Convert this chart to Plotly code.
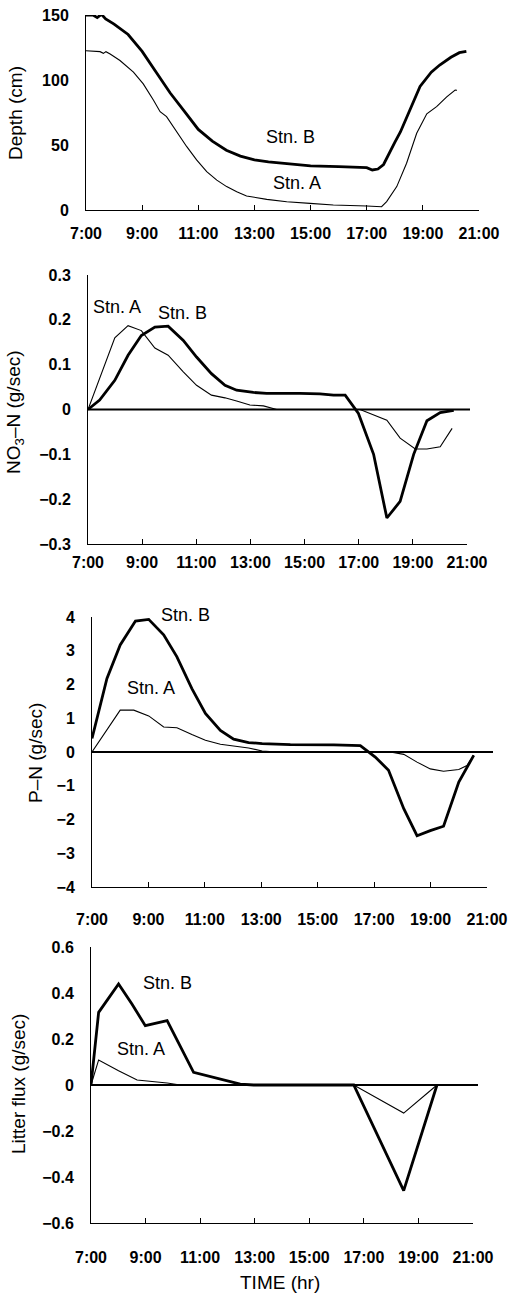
import plotly.graph_objects as go

# ---------------- data ----------------
ticks_x = [7, 9, 11, 13, 15, 17, 19, 21]
tick_text_x = ["7:00", "9:00", "11:00", "13:00", "15:00", "17:00", "19:00", "21:00"]

# Panel 1: depth (cm)
depth_b_t = [7.0, 7.25, 7.4, 7.55, 7.7, 8.0, 8.5, 9.0, 9.5, 10.0, 10.5, 11.0, 11.5, 12.0, 12.5,
             13.0, 13.5, 14.0, 15.0, 16.0, 17.0, 17.2, 17.4, 17.6, 17.8, 18.0, 18.2, 18.5, 18.9,
             19.3, 19.6, 20.0, 20.3, 20.55]
depth_b = [150, 150, 148, 150.5, 147, 143, 135, 122, 106, 90, 76, 62, 53, 46, 41.5,
           38.5, 37, 36, 34, 33.3, 32.6, 30.8, 31.5, 35, 44, 52, 60, 75, 95,
           106, 111.5, 117.5, 121, 122]
depth_a_t = [7.0, 7.5, 7.62, 7.71, 7.86, 8.21, 8.69, 9.04, 9.4, 9.64, 9.87, 10.23, 10.59, 10.94,
             11.3, 11.66, 12.01, 12.37, 12.72, 13.44, 14.15, 14.98, 15.81, 17.0, 17.36, 17.53,
             17.71, 18.07, 18.42, 18.78, 19.14, 19.49, 19.85, 20.15, 20.21]
depth_a = [122.5, 121.8, 120.5, 121.8, 120, 115, 106, 97, 84.6, 75.6, 71.8, 60, 48.7, 38.5,
           29.5, 23, 18, 14, 10.8, 8.2, 6.4, 5.1, 3.8, 3.1, 2.6, 2.5,
           6.4, 18, 36, 59, 74, 79.5, 87, 92.3, 92]

# Panel 2: NO3-N (g/sec)
no3_b_t = [7.0, 7.43, 7.99, 8.48, 8.97, 9.47, 9.96, 10.52, 11.01, 11.56, 12.06, 12.49, 13.11,
           13.6, 14.83, 15.57, 16.07, 16.5, 16.99, 17.55, 18.04, 18.53, 19.03, 19.52, 20.01, 20.51]
no3_b = [0, 0.021, 0.065, 0.121, 0.165, 0.184, 0.186, 0.154, 0.117, 0.080, 0.054, 0.043, 0.038,
         0.036, 0.036, 0.035, 0.032, 0.032, -0.009, -0.10, -0.242, -0.205, -0.10, -0.025, -0.007, -0.002]
no3_a_t = [7.0, 7.99, 8.48, 8.97, 9.47, 9.96, 10.52, 11.01, 11.56, 12.06, 12.49, 12.98, 13.48,
           13.97, 17.05, 18.04, 18.53, 19.09, 19.52, 20.01, 20.45]
no3_a = [0, 0.16, 0.187, 0.176, 0.137, 0.121, 0.084, 0.054, 0.032, 0.026, 0.019, 0.010, 0.008,
         0, 0, -0.024, -0.064, -0.088, -0.088, -0.083, -0.042]

# Panel 3: P-N (g/sec)
pn_b_t = [7.0, 7.53, 8.0, 8.54, 9.01, 9.54, 10.01, 10.54, 11.02, 11.55, 12.02, 12.55, 13.03,
          14.03, 15.57, 16.51, 17.04, 17.51, 18.05, 18.52, 18.99, 19.46, 20.0, 20.53]
pn_b = [0.4, 2.18, 3.17, 3.88, 3.93, 3.47, 2.82, 1.88, 1.14, 0.64, 0.38, 0.28, 0.25,
        0.22, 0.21, 0.19, -0.15, -0.54, -1.68, -2.48, -2.33, -2.20, -0.89, -0.10]
pn_a_t = [7.0, 7.53, 8.0, 8.48, 9.01, 9.54, 10.01, 10.54, 11.02, 11.55, 12.02, 12.55, 13.03,
          13.56, 17.04, 17.57, 18.05, 18.52, 18.99, 19.46, 20.0, 20.29, 20.53]
pn_a = [0, 0.64, 1.24, 1.24, 1.07, 0.74, 0.72, 0.52, 0.35, 0.23, 0.18, 0.12, 0.03,
        0, 0, 0, -0.07, -0.30, -0.50, -0.57, -0.52, -0.40, -0.10]

# Panel 4: Litter flux (g/sec)
lit_b_t = [7.0, 7.28, 8.01, 8.5, 8.99, 9.79, 10.76, 12.47, 12.96, 16.63, 18.46, 19.68]
lit_b = [0, 0.316, 0.439, 0.352, 0.258, 0.280, 0.055, 0.004, 0, 0, -0.459, 0]
lit_a_t = [7.0, 7.28, 8.01, 8.69, 9.79, 10.27, 16.63, 18.46, 19.68]
lit_a = [0, 0.109, 0.062, 0.022, 0.009, 0, 0, -0.122, 0]

# ---------------- layout helpers ----------------
W, H = 510, 1299
FONT = "Liberation Sans, Arial, sans-serif"

# pixel boxes: (left, right, top, bottom)
boxes = [(86, 479, 15, 210), (88, 467, 275, 544), (92, 487, 617, 887), (91, 473, 947, 1223)]


def xd(b):
    return [b[0] / W, b[1] / W]


def yd(b):
    return [1 - b[3] / H, 1 - b[2] / H]


fig = go.Figure()

panels = [
    (depth_a_t, depth_a, depth_b_t, depth_b),
    (no3_a_t, no3_a, no3_b_t, no3_b),
    (pn_a_t, pn_a, pn_b_t, pn_b),
    (lit_a_t, lit_a, lit_b_t, lit_b),
]
for i, (ta, va, tb, vb) in enumerate(panels):
    sfx = "" if i == 0 else str(i + 1)
    fig.add_trace(go.Scatter(x=ta, y=va, mode="lines", line=dict(color="black", width=1.1),
                             xaxis="x" + sfx, yaxis="y" + sfx, name="Stn. A", showlegend=False))
    fig.add_trace(go.Scatter(x=tb, y=vb, mode="lines", line=dict(color="black", width=2.8),
                             xaxis="x" + sfx, yaxis="y" + sfx, name="Stn. B", showlegend=False))

yranges = [[0, 150], [-0.3, 0.3], [-4, 4], [-0.6, 0.6]]
ydticks = [50, 0.1, 1, 0.2]
xstand = [9, 4, 18, 20]

tfont = dict(family=FONT, size=16, color="black", weight="bold")
common_axis = dict(showline=True, linecolor="black", linewidth=1, ticks="inside", ticklen=5,
                   tickcolor="black", tickwidth=1, showgrid=False, zeroline=False,
                   tickfont=tfont, automargin=False)

for i, b in enumerate(boxes):
    sfx = "" if i == 0 else str(i + 1)
    fig.layout["xaxis" + sfx] = dict(
        common_axis, domain=xd(b), range=[7, 21], tickvals=ticks_x, ticktext=tick_text_x,
        anchor="y" + sfx, ticklabelstandoff=xstand[i])
    # label-bearing y axis: invisible outside ticks push the labels away from the axis line
    fig.layout["yaxis" + sfx] = dict(
        showline=True, linecolor="black", linewidth=1, showgrid=False, zeroline=False,
        ticks="outside", ticklen=13, tickcolor="rgba(0,0,0,0)", tickfont=tfont,
        domain=yd(b), range=yranges[i], dtick=ydticks[i], tick0=0, anchor="x" + sfx,
        automargin=False)
    # overlay y axis carrying the visible inside tick marks
    fig.layout["yaxis" + str(i + 5)] = dict(
        overlaying="y" + sfx, anchor="x" + sfx, range=yranges[i], dtick=ydticks[i], tick0=0,
        ticks="inside", ticklen=5, tickcolor="black", tickwidth=1, showticklabels=False,
        showline=False, showgrid=False, zeroline=False, side="left", automargin=False)

# zero reference lines in panels 2-4 (slightly extended to the right)
zero_ext = [None, 470, 493, 478]
for i in (1, 2, 3):
    b = boxes[i]
    sfx = str(i + 1)
    fig.add_shape(type="line", xref="x" + sfx + " domain", yref="y" + sfx,
                  x0=0, x1=(zero_ext[i] - b[0]) / (b[1] - b[0]), y0=0, y1=0,
                  line=dict(color="black", width=2))

# station labels (pixel centres)
labels = [("Stn. B", 290, 137), ("Stn. A", 297, 183),
          ("Stn. A", 117, 307), ("Stn. B", 182, 313),
          ("Stn. B", 185, 615), ("Stn. A", 151, 688),
          ("Stn. B", 167, 983), ("Stn. A", 141, 1049)]
for txt, px, py in labels:
    fig.add_annotation(text=txt, x=px / W, y=1 - py / H, xref="paper", yref="paper",
                       showarrow=False, xanchor="center", yanchor="middle",
                       font=dict(family=FONT, size=18, color="black"))

# axis titles (pixel centres)
ytitles = [("Depth (cm)", 15, 113), ("NO<sub>3</sub>\u2013N (g/sec)", 15, 412),
           ("P\u2013N (g/sec)", 35, 753), ("Litter flux (g/sec)", 18, 1084)]
for txt, px, py in ytitles:
    fig.add_annotation(text=txt, x=px / W, y=1 - py / H, xref="paper", yref="paper",
                       showarrow=False, textangle=-90, xanchor="center", yanchor="middle",
                       font=dict(family=FONT, size=19, color="black"))
fig.add_annotation(text="TIME (hr)", x=280 / W, y=1 - 1282 / H, xref="paper", yref="paper",
                   showarrow=False, xanchor="center", yanchor="middle",
                   font=dict(family=FONT, size=19, color="black"))

fig.update_layout(width=W, height=H, margin=dict(l=0, r=0, t=0, b=0, autoexpand=False),
                  paper_bgcolor="white", plot_bgcolor="white", showlegend=False)

fig.write_html("out.html")
